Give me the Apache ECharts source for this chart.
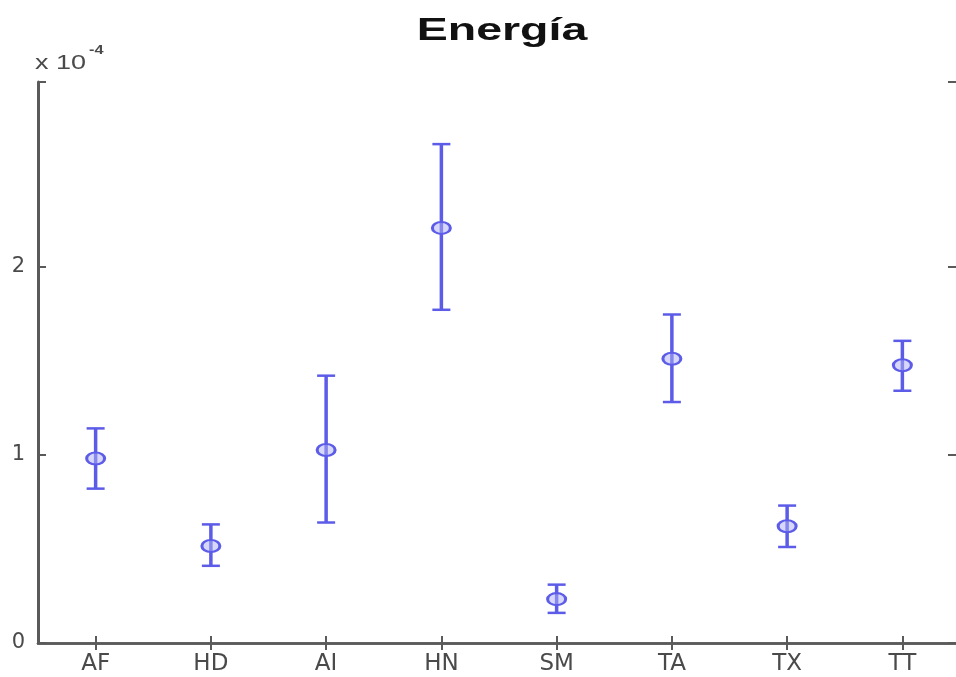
<!DOCTYPE html>
<html>
<head>
<meta charset="utf-8">
<title>Energía</title>
<script src="https://cdn.jsdelivr.net/npm/echarts@6/dist/echarts.min.js"></script>
<style>
  html, body { margin: 0; padding: 0; background: #fff; overflow: hidden; }
  #chart { width: 956px; height: 677px; }
</style>
</head>
<body>
<div id="chart"></div>
<script>
// Groups on the x axis
const categories = ['AF', 'HD', 'AI', 'HN', 'SM', 'TA', 'TX', 'TT'];
// Mean energy per group (units of 1e-4)
const means = [0.98, 0.515, 1.025, 2.205, 0.233, 1.51, 0.62, 1.475];
// Upper and lower ends of each error bar (units of 1e-4)
const upper = [1.14, 0.63, 1.42, 2.65, 0.31, 1.745, 0.73, 1.605];
const lower = [0.82, 0.41, 0.64, 1.77, 0.16, 1.28, 0.51, 1.34];
// Y axis range and tick step
const yMin = 0;
const yMax = 2.98;
const yStep = 1;

const blue = '#5c5ce8';
const axisGray = '#5a5a5a';
const labelGray = '#4a4a4a';

const chart = echarts.init(document.getElementById('chart'), null, { renderer: 'canvas' });

const barData = categories.map((c, i) => [i, lower[i], upper[i]]);
const meanData = categories.map((c, i) => [i, means[i]]);

function renderErrorBar(params, api) {
  const x = api.value(0);
  const lo = api.coord([x, api.value(1)]);
  const hi = api.coord([x, api.value(2)]);
  const half = 9;
  const style = { stroke: blue, lineWidth: 2.5, fill: null };
  return {
    type: 'group',
    children: [
      { type: 'line', shape: { x1: hi[0], y1: hi[1], x2: lo[0], y2: lo[1] }, style: Object.assign({}, style, { lineWidth: 3.5 }) },
      { type: 'line', shape: { x1: hi[0] - half, y1: hi[1], x2: hi[0] + half, y2: hi[1] }, style: style },
      { type: 'line', shape: { x1: lo[0] - half, y1: lo[1], x2: lo[0] + half, y2: lo[1] }, style: style }
    ]
  };
}

const tickLabel = v => (Math.abs(v - Math.round(v)) < 1e-9 ? String(Math.round(v)) : '');

const option = {
  animation: false,
  backgroundColor: '#fff',
  // the plot box runs a few pixels past the right edge of the canvas
  grid: { left: 38, top: 82, bottom: 34, width: 922, containLabel: false, outerBoundsMode: 'none' },
  xAxis: [
    {
      type: 'category',
      data: categories,
      position: 'bottom',
      boundaryGap: true,
      axisLine: { show: true, lineStyle: { color: axisGray, width: 2.5 } },
      axisTick: { show: true, inside: true, length: 7, alignWithLabel: true, lineStyle: { color: axisGray, width: 2 } },
      axisLabel: { show: true, margin: 10, color: labelGray, fontSize: 23, fontFamily: 'DejaVu Sans' },
      splitLine: { show: false }
    },
    {
      type: 'category',
      data: categories,
      position: 'top',
      boundaryGap: true,
      axisLine: { show: true, lineStyle: { color: axisGray, width: 2.5 } },
      axisTick: { show: true, inside: true, length: 7, alignWithLabel: true, lineStyle: { color: axisGray, width: 2 } },
      axisLabel: { show: false },
      splitLine: { show: false }
    }
  ],
  yAxis: [
    {
      type: 'value',
      position: 'left',
      min: yMin,
      max: yMax,
      interval: yStep,
      axisLine: { show: true, lineStyle: { color: axisGray, width: 3 } },
      axisTick: { show: true, inside: true, length: 8, lineStyle: { color: axisGray, width: 2 } },
      axisLabel: { show: true, margin: 13, color: labelGray, fontSize: 21, fontFamily: 'DejaVu Sans', formatter: tickLabel },
      splitLine: { show: false }
    },
    {
      type: 'value',
      position: 'right',
      min: yMin,
      max: yMax,
      interval: yStep,
      axisLine: { show: true, lineStyle: { color: axisGray, width: 3 } },
      axisTick: { show: true, inside: true, length: 12, lineStyle: { color: axisGray, width: 2 } },
      axisLabel: { show: false },
      splitLine: { show: false }
    }
  ],
  series: [
    {
      name: 'rango',
      type: 'custom',
      xAxisIndex: 0,
      yAxisIndex: 0,
      renderItem: renderErrorBar,
      encode: { x: 0, y: [1, 2] },
      data: barData,
      z: 2
    },
    {
      name: 'media',
      type: 'scatter',
      xAxisIndex: 0,
      yAxisIndex: 0,
      symbol: 'circle',
      symbolSize: [18, 12],
      itemStyle: { color: 'rgba(175,175,245,0.5)', borderColor: blue, borderWidth: 2.5, opacity: 1 },
      data: meanData,
      z: 3
    }
  ],
  graphic: [
    {
      type: 'text',
      x: 502,
      y: 31,
      scaleX: 1.5,
      style: {
        text: 'Energía',
        font: 'bold 31px "Liberation Sans", Arial, sans-serif',
        fill: '#111',
        textAlign: 'center', align: 'center',
        textVerticalAlign: 'middle', verticalAlign: 'middle'
      }
    },
    {
      type: 'text',
      x: 35,
      y: 63,
      scaleX: 1.35,
      style: {
        text: 'x 10',
        font: '20px "Liberation Sans", Arial, sans-serif',
        fill: labelGray,
        textAlign: 'left', align: 'left',
        textVerticalAlign: 'middle', verticalAlign: 'middle'
      }
    },
    {
      type: 'text',
      x: 89,
      y: 50,
      scaleX: 1.25,
      style: {
        text: '-4',
        font: 'bold 13px "Liberation Sans", Arial, sans-serif',
        fill: labelGray,
        textAlign: 'left', align: 'left',
        textVerticalAlign: 'middle', verticalAlign: 'middle'
      }
    }
  ]
};

chart.setOption(option);
</script>
</body>
</html>
